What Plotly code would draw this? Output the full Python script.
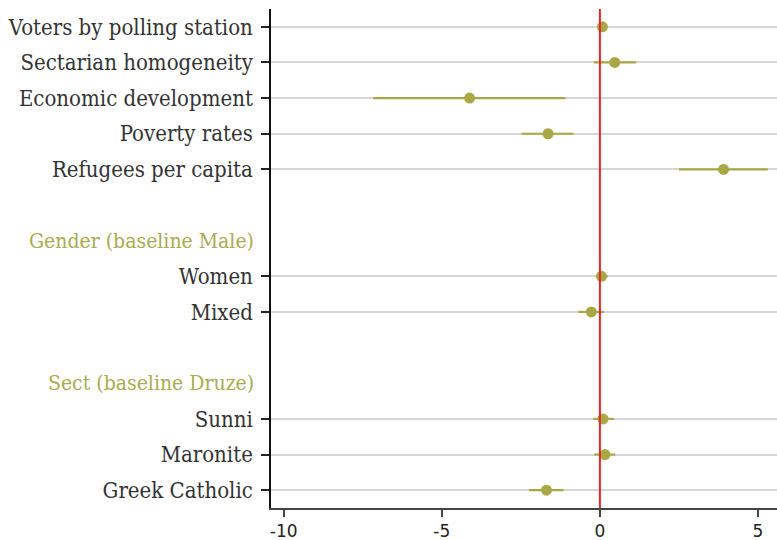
import plotly.graph_objects as go

# Row layout (top to bottom); None marks a spacer row, headers are group titles
rows = [
    "Voters by polling station",
    "Sectarian homogeneity",
    "Economic development",
    "Poverty rates",
    "Refugees per capita",
    None,
    "Gender (baseline Male)",
    "Women",
    "Mixed",
    None,
    "Sect (baseline Druze)",
    "Sunni",
    "Maronite",
    "Greek Catholic",
]
headers = ["Gender (baseline Male)", "Sect (baseline Druze)"]

# Coefficient estimates and confidence bounds
terms = [
    "Voters by polling station",
    "Sectarian homogeneity",
    "Economic development",
    "Poverty rates",
    "Refugees per capita",
    "Women",
    "Mixed",
    "Sunni",
    "Maronite",
    "Greek Catholic",
]
estimate = [0.08, 0.47, -4.12, -1.64, 3.91, 0.05, -0.27, 0.10, 0.16, -1.69]
ci_low = [-0.02, -0.19, -7.17, -2.48, 2.50, -0.13, -0.68, -0.21, -0.18, -2.24]
ci_high = [0.18, 1.15, -1.09, -0.83, 5.31, 0.25, 0.13, 0.44, 0.48, -1.15]

x_ticks = [-10, -5, 0, 5]

OLIVE = "#a8a846"
HEADER = "#a9ab50"
LABEL_FONT = "DejaVu Serif Condensed, DejaVu Serif"

pos = {name: i for i, name in enumerate(rows) if name is not None}
y_vals = [pos[t] for t in terms]

fig = go.Figure()
fig.add_trace(go.Scatter(
    x=estimate,
    y=y_vals,
    mode="markers",
    marker=dict(color=OLIVE, size=11),
    error_x=dict(
        type="data",
        symmetric=False,
        array=[h - e for h, e in zip(ci_high, estimate)],
        arrayminus=[e - l for e, l in zip(estimate, ci_low)],
        color=OLIVE,
        thickness=2.2,
        width=0,
    ),
    showlegend=False,
    hoverinfo="skip",
))

# Zero reference line
fig.add_shape(type="line", xref="x", yref="paper", x0=0, x1=0, y0=0, y1=1,
              line=dict(color="#e0262b", width=2), layer="above")

# Group titles on the left
for h in headers:
    fig.add_annotation(x=0, xref="paper", y=pos[h], yref="y", text=h,
                       showarrow=False, xanchor="right", xshift=-15,
                       font=dict(family=LABEL_FONT, size=21, color=HEADER))

fig.update_layout(
    width=777,
    height=540,
    margin=dict(l=271, r=0, t=9, b=32),
    paper_bgcolor="white",
    plot_bgcolor="white",
)
fig.update_xaxes(
    range=[-10.40, 5.60],
    tickvals=x_ticks,
    ticktext=[str(v) for v in x_ticks],
    showgrid=False,
    zeroline=False,
    showline=True,
    linecolor="#444444",
    linewidth=1.5,
    ticks="outside",
    ticklen=7,
    tickcolor="#444444",
    tickwidth=1.5,
    tickfont=dict(family="DejaVu Sans", size=17, color="#222222"),
)
fig.update_yaxes(
    range=[13.5, -0.5],
    tickvals=y_vals,
    ticktext=terms,
    showgrid=True,
    gridcolor="#d6d6d6",
    gridwidth=1.5,
    zeroline=False,
    showline=True,
    linecolor="#111111",
    linewidth=1.5,
    ticks="outside",
    ticklen=8,
    tickcolor="#222222",
    tickwidth=1.5,
    ticklabelstandoff=4,
    tickfont=dict(family=LABEL_FONT, size=22, color="#333333"),
)

fig.write_html("out.html")
